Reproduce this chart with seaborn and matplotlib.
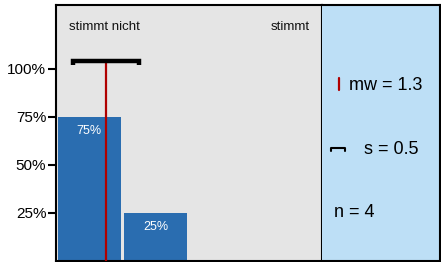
import matplotlib
matplotlib.use("Agg")
import matplotlib.pyplot as plt
import seaborn as sns
import pandas as pd

categories = ["1", "2", "3", "4"]
shares = [0.75, 0.25, 0.0, 0.0]
bar_labels = ["75%", "25%", "", ""]
ytick_vals = [0.25, 0.5, 0.75, 1.0]
ytick_labels = ["25%", "50%", "75%", "100%"]
mean_val = 1.25
std_val = 0.5
n_val = 4
left_label = "stimmt nicht"
right_label = "stimmt"
stat_texts = ["mw = 1.3", "s = 0.5", "n = 4"]

sns.set_style("white")
plt.rcParams["font.family"] = ["Liberation Sans", "DejaVu Sans"]
plt.rcParams["text.color"] = "black"
plt.rcParams["ytick.color"] = "black"
plt.rcParams["ytick.labelcolor"] = "black"

W, H = 441, 262
fig = plt.figure(figsize=(W / 100, H / 100), dpi=100)
x0, x1, y0, y1 = 56, 322, 5, 261
ax = fig.add_axes([x0 / W, 1 - y1 / H, (x1 - x0) / W, (y1 - y0) / H])
ax2 = fig.add_axes([x1 / W, 1 - y1 / H, (440 - x1) / W, (y1 - y0) / H])

df = pd.DataFrame({"cat": categories, "share": shares})
sns.barplot(data=df, x="cat", y="share", order=categories, color="#2a6db0",
            saturation=1, width=0.94, linewidth=0, edgecolor="none", ax=ax)
ax.set_facecolor("#e5e5e5")
ax.set_xlim(-0.5, 3.5)
ax.set_ylim(0, 1.333)
ax.set_xticks([])
ax.set_xlabel("")
ax.set_ylabel("")
ax.set_yticks(ytick_vals)
ax.set_yticklabels(ytick_labels, fontsize=11, color="black")
ax.tick_params(axis="y", direction="out", length=6, width=1.5, color="black", pad=1, left=True)
for sp in ax.spines.values():
    sp.set_visible(True)
    sp.set_color("black")
    sp.set_linewidth(1.5)

for i, (v, lab) in enumerate(zip(shares, bar_labels)):
    if lab:
        ax.annotate(lab, (i, v), xytext=(0, -10), textcoords="offset points",
                    ha="center", va="center", color="white", fontsize=9)

m = mean_val - 1
by = 1.04
ax.vlines(m, 0, by, color="#b00000", lw=1.6, zorder=3)
ax.plot([m - std_val, m - std_val, m + std_val, m + std_val],
        [by - 0.022, by, by, by - 0.022], color="black", lw=3.2,
        solid_capstyle="butt", solid_joinstyle="miter", zorder=4)

def fy(py):
    return (y1 - py) / (y1 - y0)

def fx(px, a0, a1):
    return (px - a0) / (a1 - a0)

ax.text(fx(69, x0, x1), fy(29.5), left_label, transform=ax.transAxes,
        ha="left", va="baseline", fontsize=9.5, color="#111111")
ax.text(fx(310, x0, x1), fy(29.5), right_label, transform=ax.transAxes,
        ha="right", va="baseline", fontsize=9.5, color="#111111")

ax2.set_facecolor("#bddff6")
ax2.set_xticks([])
ax2.set_yticks([])
ax2.set_xlim(0, 1)
ax2.set_ylim(0, 1)
for sp in ax2.spines.values():
    sp.set_visible(True)
    sp.set_color("black")
    sp.set_linewidth(1.5)
ax2.spines["left"].set_visible(False)

ax2.plot([fx(339, x1, 440)] * 2, [fy(78), fy(90)], color="#b00000", lw=1.6)
ax2.plot([fx(331, x1, 440), fx(331, x1, 440), fx(345, x1, 440), fx(345, x1, 440)],
         [fy(150.5), fy(148), fy(148), fy(150.5)], color="black", lw=1.5)
ax2.text(fx(349, x1, 440), fy(89.5), stat_texts[0], ha="left", va="baseline", fontsize=13)
ax2.text(fx(364, x1, 440), fy(153.5), stat_texts[1], ha="left", va="baseline", fontsize=13)
ax2.text(fx(334, x1, 440), fy(217), stat_texts[2], ha="left", va="baseline", fontsize=13)

fig.savefig("out.png", dpi=100)
